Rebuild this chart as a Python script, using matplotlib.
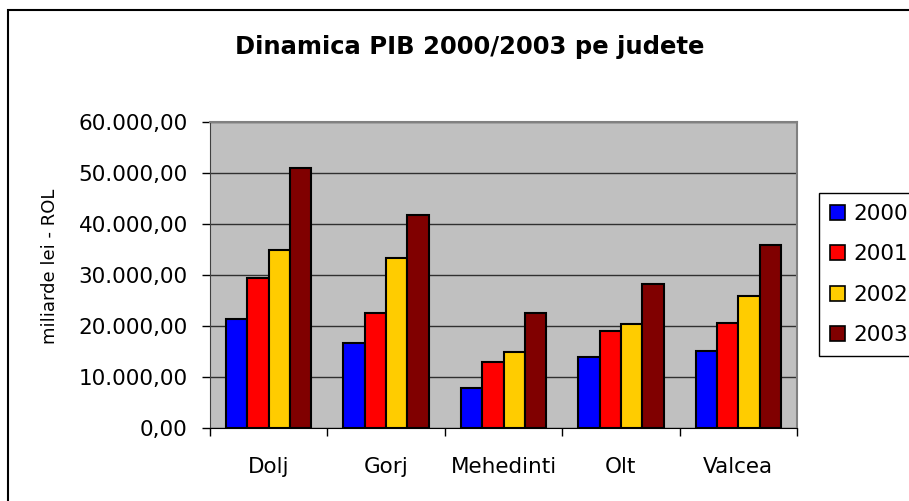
import numpy as np
import matplotlib.pyplot as plt
from matplotlib.patches import Rectangle, Patch

plt.rcParams['font.family'] = ['DejaVu Sans']

counties = ["Dolj", "Gorj", "Mehedinti", "Olt", "Valcea"]
years = ["2000", "2001", "2002", "2003"]
pib_2000 = [21400, 16600, 7900, 13900, 15100]
pib_2001 = [29500, 22600, 13000, 19100, 20600]
pib_2002 = [35000, 33400, 15000, 20300, 25900]
pib_2003 = [51000, 41800, 22600, 28300, 35900]
colors = ["#0000FF", "#FF0000", "#FFCC00", "#800000"]
yticks = [0, 10000, 20000, 30000, 40000, 50000, 60000]


def ro_fmt(v):
    s = f"{v:,.2f}"
    return s.replace(",", "X").replace(".", ",").replace("X", ".")


fig = plt.figure(figsize=(9.09, 5.01), dpi=100)
ax = fig.add_axes([210 / 909, 1 - 428 / 501, 587 / 909, 306 / 501])
ax.set_facecolor("#C0C0C0")

x = np.arange(len(counties))
w = 0.1818
series = [pib_2000, pib_2001, pib_2002, pib_2003]
for i, vals in enumerate(series):
    ax.bar(x + (i - 1.5) * w, vals, width=w, color=colors[i],
           edgecolor="black", linewidth=1.5, zorder=3)

ax.set_xlim(-0.5, len(counties) - 0.5)
ax.set_ylim(0, 60000)
ax.set_yticks(yticks)
ax.set_yticklabels([ro_fmt(v) for v in yticks], fontsize=15.5)
ax.yaxis.grid(True, color="#303030", linewidth=1, zorder=1)
ax.set_axisbelow(True)

# category boundaries as ticks, labels in the middle
ax.set_xticks(np.arange(len(counties) + 1) - 0.5)
ax.set_xticklabels([])
ax.set_xticks(x, minor=True)
ax.set_xticklabels(counties, minor=True, fontsize=15.5)
ax.tick_params(axis="x", which="minor", length=0, pad=21)
ax.tick_params(axis="x", which="major", length=6, width=1, color="black")
ax.tick_params(axis="y", length=6, width=1, pad=10)

for side in ["top", "right"]:
    ax.spines[side].set_color("#808080")
    ax.spines[side].set_linewidth(1.5)
ax.spines["left"].set_color("#404040")
ax.spines["bottom"].set_color("black")

ax.set_ylabel("miliarde lei - ROL", fontsize=13)
ax.yaxis.set_label_coords(-0.258, 0.528)

fig.text(470 / 909, 1 - 47 / 501, "Dinamica PIB 2000/2003 pe judete",
         fontsize=17.5, fontweight="bold", ha="center", va="center")

handles = [Patch(facecolor=c, edgecolor="black", linewidth=1.2) for c in colors]
fig.legend(handles, years, loc="upper left",
           bbox_to_anchor=(819 / 909, 1 - 193 / 501), fontsize=15.5,
           frameon=True, fancybox=False, edgecolor="black", framealpha=1,
           handlelength=0.7, handleheight=0.7, handletextpad=0.4,
           labelspacing=0.95, borderpad=0.5, borderaxespad=0)

# outer chart frame
fig.patches.append(Rectangle((8 / 909, -0.1), 1.2, 1 - 10 / 501 + 0.1,
                             transform=fig.transFigure, fill=False,
                             edgecolor="black", linewidth=1.5))

fig.savefig("out.png", dpi=100)
